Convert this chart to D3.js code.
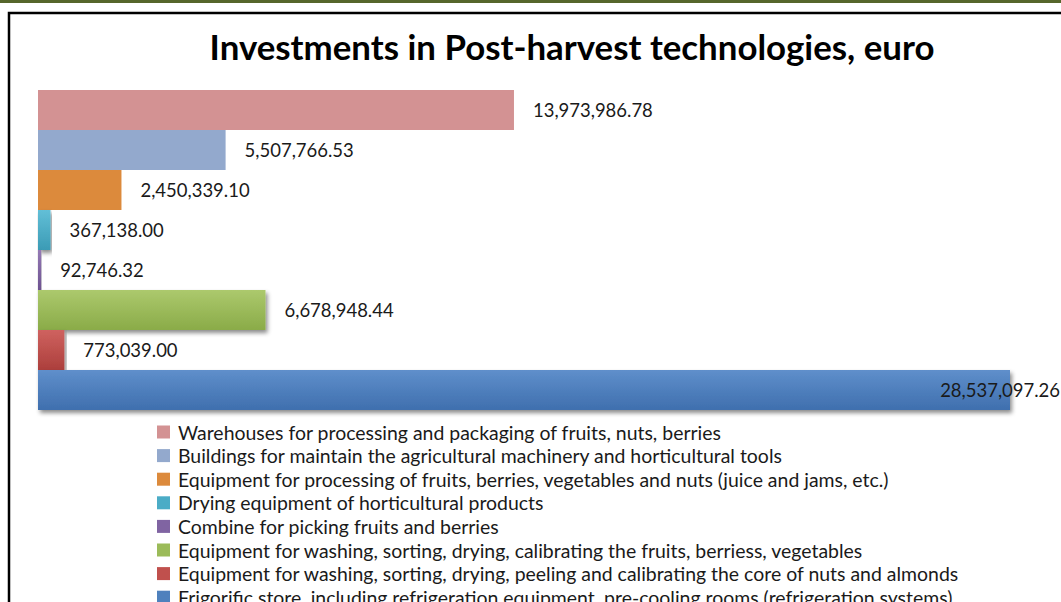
<!DOCTYPE html>
<html>
<head>
<meta charset="utf-8">
<script src="https://cdn.jsdelivr.net/npm/d3@7"></script>
<style>
  html, body { margin: 0; padding: 0; background: #fff; overflow: hidden; }
  svg { display: block; font-family: Lato, "Open Sans", sans-serif; }
</style>
</head>
<body>
<div id="root"></div>
<script>
const width = 1061;
const height = 602;

const categories = [
    'Warehouses for processing and packaging of fruits, nuts, berries',
    'Buildings for maintain the agricultural machinery and horticultural tools',
    'Equipment for processing of fruits, berries, vegetables and nuts (juice and jams, etc.)',
    'Drying equipment of horticultural products',
    'Combine for picking fruits and berries',
    'Equipment for washing, sorting, drying, calibrating the fruits, berriess, vegetables',
    'Equipment for washing, sorting, drying, peeling and calibrating the core of nuts and almonds',
    'Frigorific store, including refrigeration equipment, pre-cooling rooms (refrigeration systems)'
];
const values = [13973986.78, 5507766.53, 2450339.10, 367138.00, 92746.32, 6678948.44, 773039.00, 28537097.26];
const colors = ['#d39293', '#93a9cd', '#dc8a3c', '#4bacc6', '#8064a2', '#9bbb59', '#c0504d', '#4f81bd'];
// top/bottom gradient stops for the shaded bars (null = flat fill)
const shades = [null, null, null,
    ['#62bfd7', '#3b9bb5'], ['#9479b5', '#6d5290'], ['#acc96d', '#8aab48'],
    ['#cf625f', '#ac3f3c'], ['#5f8fcb', '#3f6fae']];

const fmt = d3.format(',.2f');

const svg = d3.select('#root')
    .append('svg')
    .attr('width', width)
    .attr('height', height);

const defs = svg.append('defs');
defs.append('filter')
    .attr('id', 'shadow')
    .attr('x', '-5%').attr('y', '-20%').attr('width', '115%').attr('height', '160%')
    .append('feDropShadow')
    .attr('dx', 2).attr('dy', 3).attr('stdDeviation', 2)
    .attr('flood-color', '#000').attr('flood-opacity', 0.45);

shades.forEach((s, i) => {
    if (!s) return;
    const g = defs.append('linearGradient')
        .attr('id', 'grad' + i)
        .attr('x1', 0).attr('y1', 0).attr('x2', 0).attr('y2', 1);
    g.append('stop').attr('offset', '0%').attr('stop-color', s[0]);
    g.append('stop').attr('offset', '100%').attr('stop-color', s[1]);
});

// page decoration: olive band and chart frame
svg.append('rect')
    .attr('x', 0).attr('y', 0).attr('width', width).attr('height', 3)
    .attr('fill', '#56662b');
svg.append('rect')
    .attr('x', 9).attr('y', 13).attr('width', width + 20).attr('height', height + 20)
    .attr('fill', 'none')
    .attr('stroke', '#000')
    .attr('stroke-width', 2.5);

// fit a font size so that a text gets a given width
function fitSize(text, target, weight) {
    const t = svg.append('text')
        .attr('font-size', 100)
        .attr('font-weight', weight || 'normal')
        .text(text);
    const w = t.node().getComputedTextLength();
    t.remove();
    return 100 * target / w;
}

const titleText = 'Investments in Post-harvest technologies, euro';
svg.append('text')
    .attr('x', 572)
    .attr('y', 60)
    .attr('text-anchor', 'middle')
    .attr('font-weight', 'bold')
    .attr('font-size', fitSize(titleText, 725, 'bold'))
    .attr('fill', '#000')
    .text(titleText);

const x = d3.scaleLinear()
    .domain([0, d3.max(values)])
    .range([38, 1010]);

const y = d3.scaleBand()
    .domain(d3.range(values.length))
    .range([90, 410])
    .padding(0);

const data = values.map((v, i) => ({ i, v, name: categories[i] }));

svg.selectAll('.bar')
    .data(data)
    .join('rect')
    .classed('bar', true)
    .attr('x', x(0))
    .attr('y', d => y(d.i))
    .attr('width', d => Math.max(1.5, x(d.v) - x(0)))
    .attr('height', y.bandwidth())
    .attr('fill', d => shades[d.i] ? `url(#grad${d.i})` : colors[d.i])
    .attr('filter', d => shades[d.i] ? 'url(#shadow)' : null);

const labelSize = fitSize(fmt(values[0]), 120);
svg.selectAll('.label')
    .data(data)
    .join('text')
    .classed('label', true)
    .attr('font-size', labelSize)
    .attr('fill', '#1a1a1a')
    .attr('dominant-baseline', 'central')
    .attr('y', d => y(d.i) + y.bandwidth() / 2)
    .text(d => fmt(d.v))
    .attr('x', function (d) {
        const w = this.getComputedTextLength();
        return Math.min(x(d.v) + 19, width - w - 1);
    });

const legendSize = fitSize(categories[0], 543);
const legend = svg.selectAll('.legend')
    .data(data)
    .join('g')
    .classed('legend', true)
    .attr('transform', d => `translate(157, ${432 + d.i * 23.6})`);

legend.append('rect')
    .attr('x', 0).attr('y', -6.5)
    .attr('width', 13).attr('height', 13)
    .attr('fill', d => colors[d.i]);

legend.append('text')
    .attr('x', 21)
    .attr('dominant-baseline', 'central')
    .attr('font-size', legendSize)
    .attr('fill', '#1a1a1a')
    .text(d => d.name);
</script>
</body>
</html>
